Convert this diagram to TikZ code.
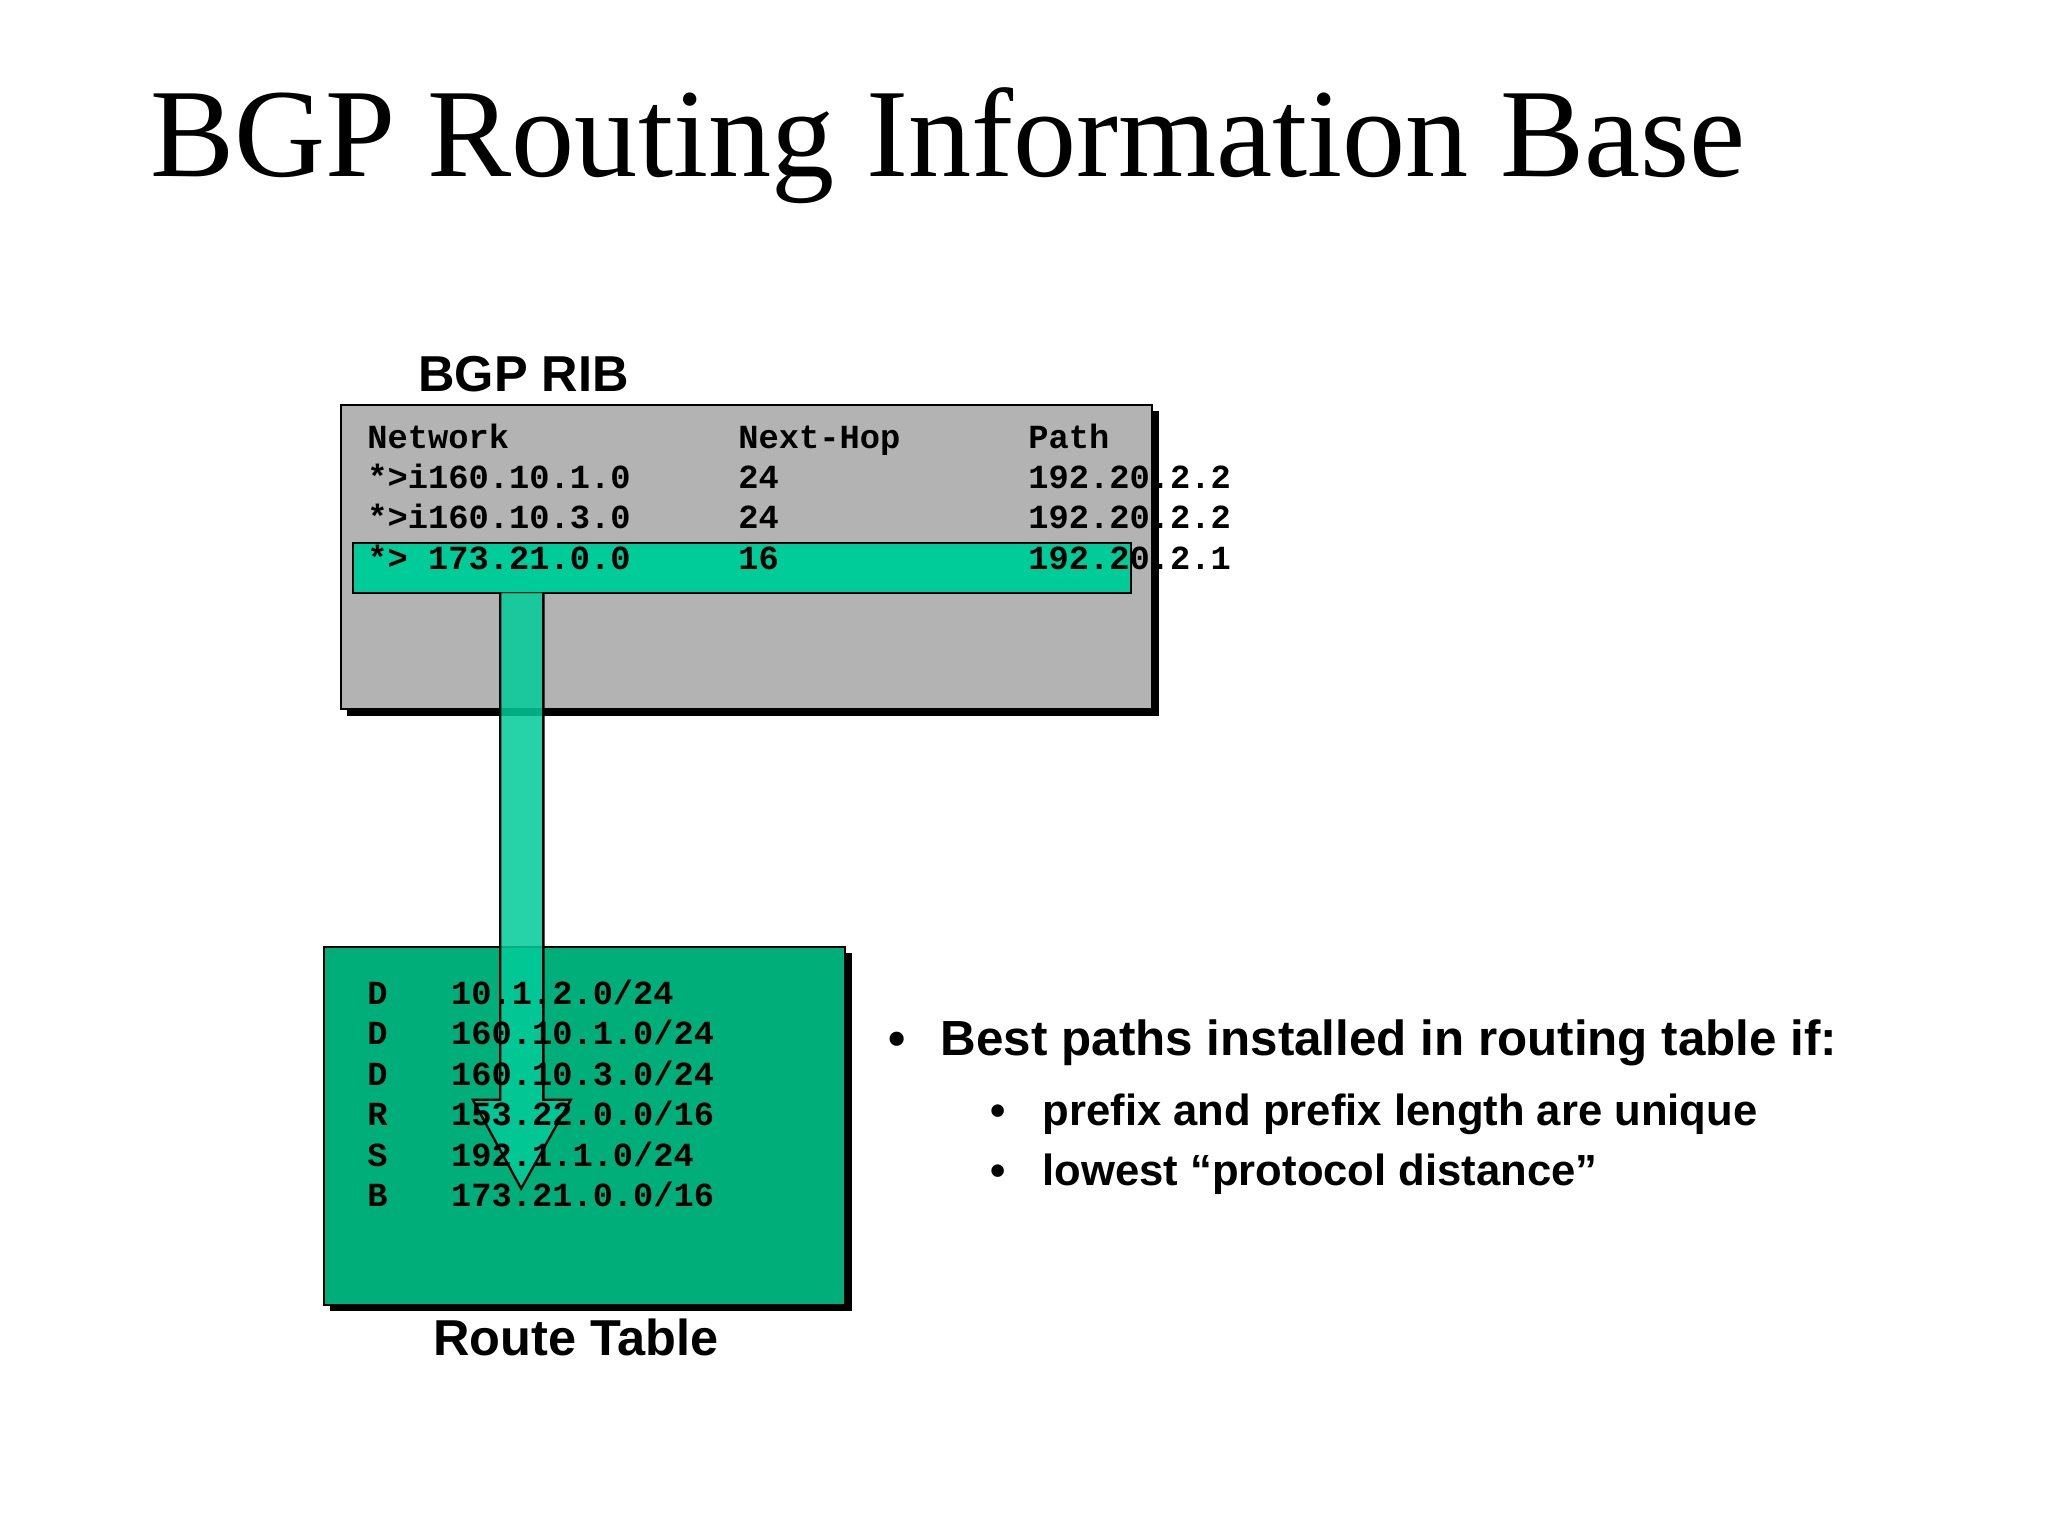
\documentclass[tikz,border=0pt]{standalone}
\usepackage{fontspec}
\setmainfont{Liberation Serif}
\setsansfont{Liberation Sans}
\setmonofont{Liberation Mono}
\definecolor{grn}{HTML}{00CC99}
\definecolor{tgrn}{HTML}{00AE7A}
\definecolor{gry}{HTML}{B3B3B3}
\begin{document}
\begin{tikzpicture}[x=0.02cm,y=-0.02cm,
  mono/.style={anchor=base west,inner sep=0,font=\fontsize{14.7}{16}\ttfamily\bfseries},
  hd/.style={inner sep=0,font=\fontsize{22}{24}\sffamily\bfseries},
  bl/.style={anchor=base west,inner sep=0,font=\sffamily\bfseries}]
\useasboundingbox (0,0) rectangle (1568,1176);
\fill[white] (0,0) rectangle (1568,1176);
\node[anchor=base west,inner sep=0,font=\fontsize{55}{60}\selectfont] (title) at (115,135) {BGP Routing Information Base};
% RIB box
\fill[black] (266,315) rectangle (887,548);
\draw[fill=gry,line width=1pt] (261,310) rectangle (882,543);
\node[hd,anchor=base west] (rib) at (320,300) {BGP RIB};
\draw[fill=grn,line width=1pt] (270,416) rectangle (866,454);
\foreach \y/\a/\b/\c in {343/Network/Next-Hop/Path,374/*>i160.10.1.0/24/192.20.2.2/i,405/*>i160.10.3.0/24/192.20.2.2/i,436/*> 173.21.0.0/16/192.20.2.1/100}{
  \node[mono] at (281,\y) {\a};
  \node[mono] at (565,\y) {\b};
  \node[mono] at (787,\y) {\c};
}
% route table
\fill[black] (253,730) rectangle (652,1004);
\draw[fill=tgrn,line width=1pt] (248,725) rectangle (647,999);
\coordinate (s) at (399,454);
\draw[fill=grn,fill opacity=0.85,line width=1pt] (383,454) -- (383,842) -- (362,842) -- (399,910) -- (437,842) -- (416,842) -- (416,454);
\foreach \y/\a/\b in {769/D/10.1.2.0\slash 24,800/D/160.10.1.0\slash 24,831/D/160.10.3.0\slash 24,862/R/153.22.0.0\slash 16,893/S/192.1.1.0\slash 24,924/B/173.21.0.0\slash 16}{
  \node[mono] at (281,\y) {\a};
  \node[mono] at (345,\y) {\b};
}
\node[hd,anchor=base] (rt) at (441,1038) {Route Table};
% bullets
\node[bl,font=\fontsize{21.5}{24}\sffamily\bfseries] at (680,808) {•};
\node[bl,font=\fontsize{21.5}{24}\sffamily\bfseries] at (720,808) {Best paths installed in routing table if:};
\node[bl,font=\fontsize{19}{22}\sffamily\bfseries] at (758,862) {•};
\node[bl,font=\fontsize{19}{22}\sffamily\bfseries] at (798,862) {prefix and prefix length are unique};
\node[bl,font=\fontsize{19}{22}\sffamily\bfseries] at (758,908) {•};
\node[bl,font=\fontsize{19}{22}\sffamily\bfseries] at (798,908) {lowest “protocol distance”};
\end{tikzpicture}
\end{document}
